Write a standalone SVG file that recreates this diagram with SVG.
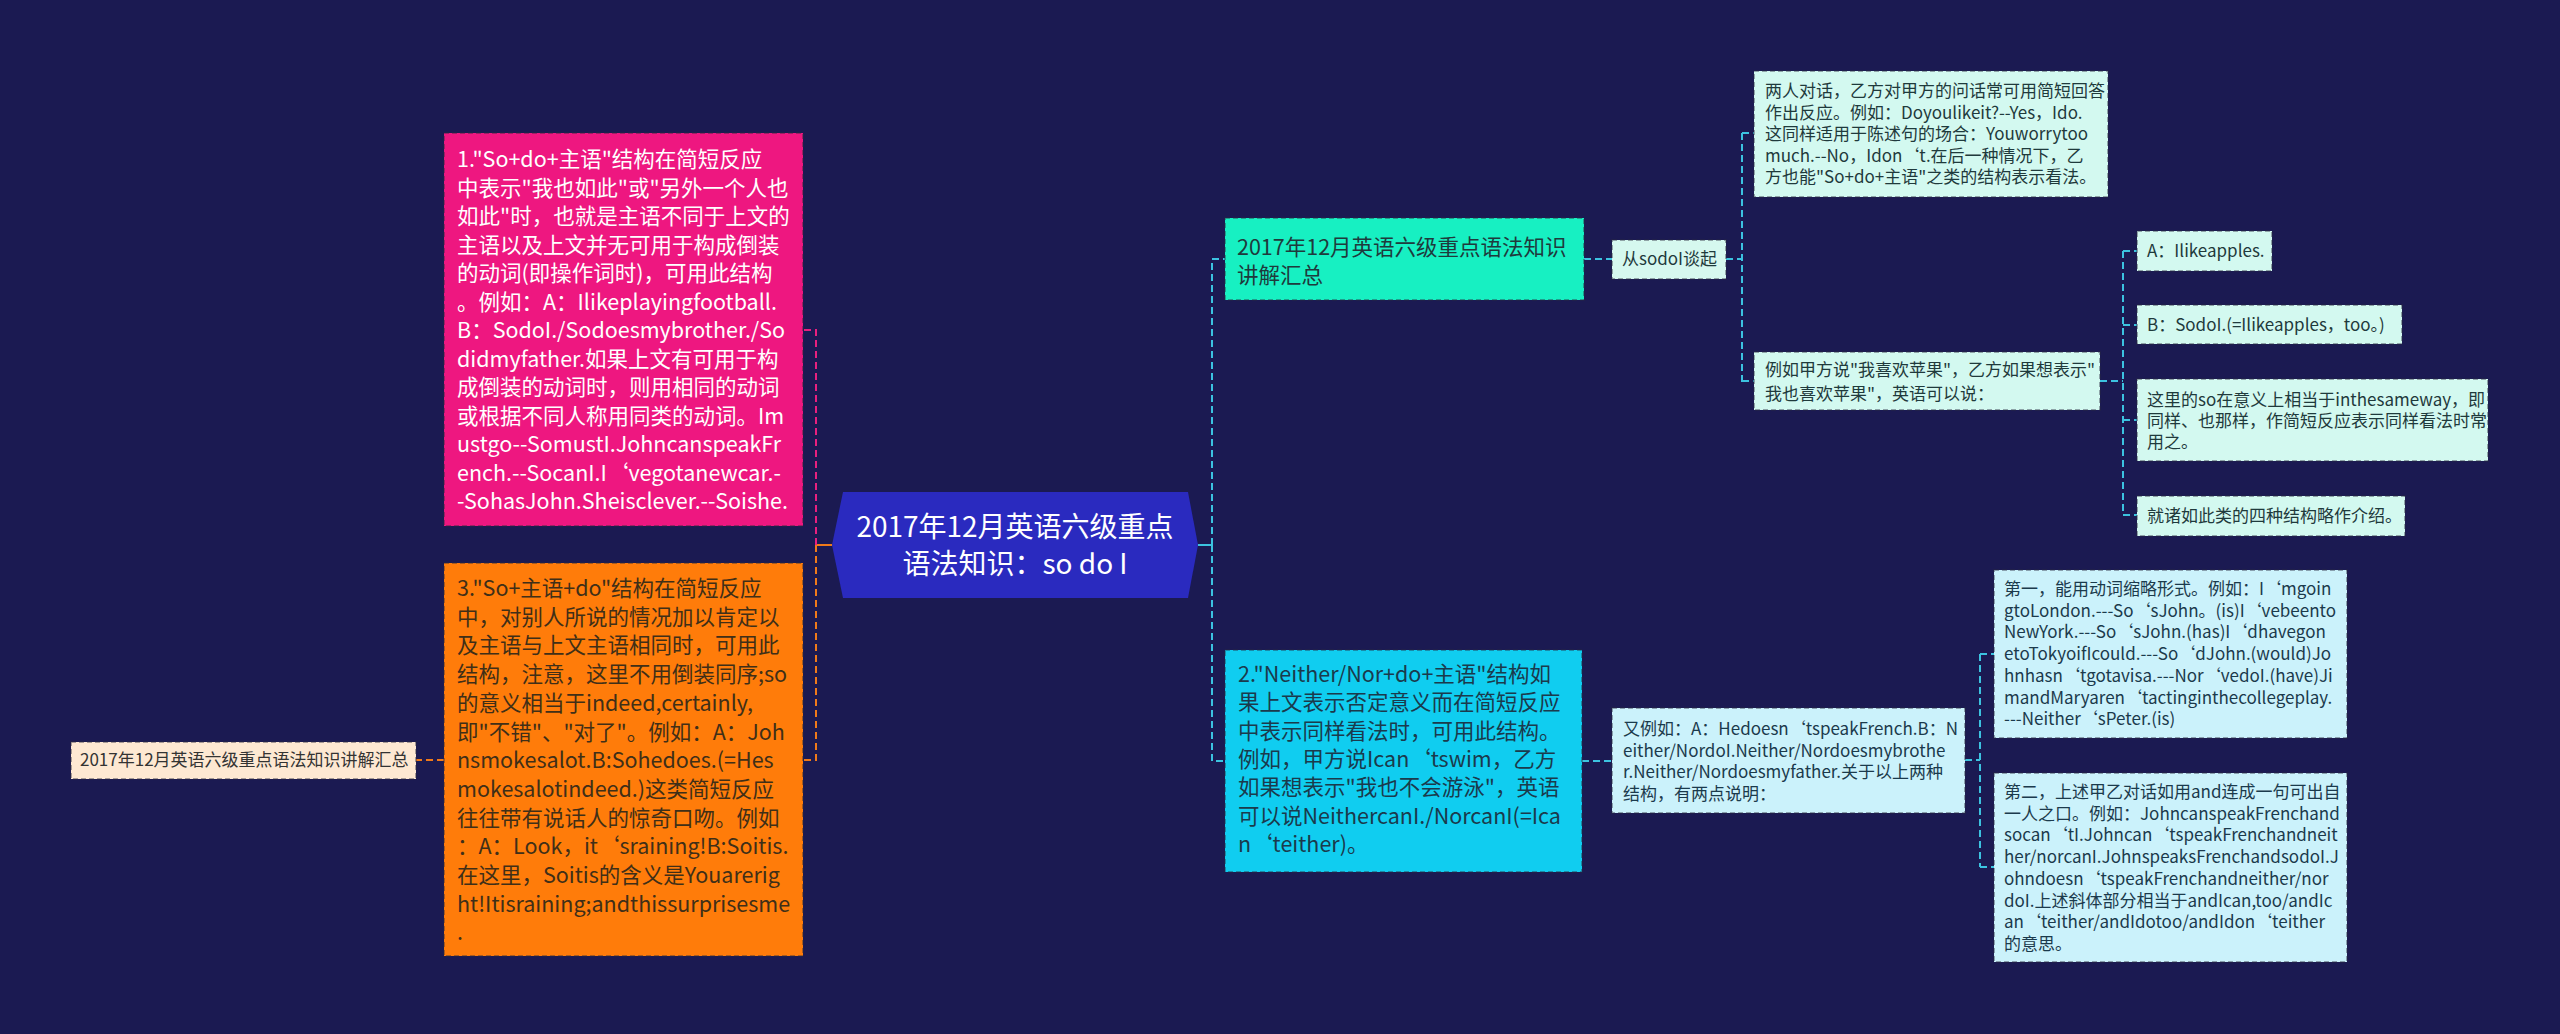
<svg xmlns="http://www.w3.org/2000/svg" width="2560" height="1034" viewBox="0 0 2560 1034">
<style>
text{font-family:"Noto Sans CJK SC","Noto Sans",sans-serif}
.big{font-size:21.5px}
.sm{font-size:17px}
.cn{fill:none;stroke-width:2;stroke-dasharray:7 4}
.nb{stroke:#2a2a40;stroke-opacity:.55;stroke-width:1.5;stroke-dasharray:5 3}
.dk{fill:#1f3a3c}
</style>
<rect width="2560" height="1034" fill="#1b1a52"/>
<g id="connectors">
<path d="M832 545H816" stroke="#f07a1a" stroke-width="2" fill="none"/>
<path class="cn" d="M816 545V330H803" stroke="#e8207f"/>
<path class="cn" d="M816 545V760H803" stroke="#f07a1a"/>
<path class="cn" d="M444 760H416" stroke="#f07a1a"/>
<path d="M1198 545H1212" stroke="#3cc3e0" stroke-width="2" fill="none"/>
<path class="cn" d="M1212 545V259H1225" stroke="#3cc3e0"/>
<path class="cn" d="M1212 545V761H1225" stroke="#3cc3e0"/>
<path class="cn" d="M1584 259H1612" stroke="#3cc3e0"/>
<path class="cn" d="M1726 259H1742M1742 133V383M1742 133H1754M1742 381H1754" stroke="#3cc3e0"/>
<path class="cn" d="M2100 381H2123M2123 251V515M2123 251H2137M2123 325H2137M2123 420H2137M2123 515H2137" stroke="#3cc3e0"/>
<path class="cn" d="M1582 761H1612" stroke="#3cc3e0"/>
<path class="cn" d="M1965 760H1980M1980 654V867M1980 654H1994M1980 867H1994" stroke="#3cc3e0"/>
</g>
<g id="center">
<polygon points="832,545 843,492 1188,492 1198,545 1188,598 843,598" fill="#2a2abf"/>
<text x="1015" y="537" font-size="28" fill="#fff" text-anchor="middle">2017年12月英语六级重点</text>
<text x="1015" y="574" font-size="28" fill="#fff" text-anchor="middle">语法知识：so do I</text>
</g>
<g id="n1">
<rect x="444" y="133" width="359" height="393" fill="#ee1780" class="nb"/>
<text class="big" fill="#fff">
<tspan x="457" y="167">1."So+do+主语"结构在简短反应</tspan>
<tspan x="457" y="195.5">中表示"我也如此"或"另外一个人也</tspan>
<tspan x="457" y="224">如此"时，也就是主语不同于上文的</tspan>
<tspan x="457" y="252.5">主语以及上文并无可用于构成倒装</tspan>
<tspan x="457" y="281">的动词(即操作词时)，可用此结构</tspan>
<tspan x="457" y="309.5">。例如：A：Ilikeplayingfootball.</tspan>
<tspan x="457" y="338">B：SodoI./Sodoesmybrother./So</tspan>
<tspan x="457" y="366.5">didmyfather.如果上文有可用于构</tspan>
<tspan x="457" y="395">成倒装的动词时，则用相同的动词</tspan>
<tspan x="457" y="423.5">或根据不同人称用同类的动词。Im</tspan>
<tspan x="457" y="452">ustgo--SomustI.JohncanspeakFr</tspan>
<tspan x="457" y="480.5">ench.--SocanI.I‘vegotanewcar.-</tspan>
<tspan x="457" y="509">-SohasJohn.Sheisclever.--Soishe.</tspan>
</text>
</g>
<g id="n3">
<rect x="444" y="563" width="359" height="393" fill="#ff7c0a" class="nb"/>
<text class="big" fill="#3f2f18">
<tspan x="457" y="596">3."So+主语+do"结构在简短反应</tspan>
<tspan x="457" y="624.7">中，对别人所说的情况加以肯定以</tspan>
<tspan x="457" y="653.4">及主语与上文主语相同时，可用此</tspan>
<tspan x="457" y="682.1">结构，注意，这里不用倒装同序;so</tspan>
<tspan x="457" y="710.8">的意义相当于indeed,certainly,</tspan>
<tspan x="457" y="739.5">即"不错"、"对了"。例如：A：Joh</tspan>
<tspan x="457" y="768.2">nsmokesalot.B:Sohedoes.(=Hes</tspan>
<tspan x="457" y="796.9">mokesalotindeed.)这类简短反应</tspan>
<tspan x="457" y="825.6">往往带有说话人的惊奇口吻。例如</tspan>
<tspan x="457" y="854.3">：A：Look，it‘sraining!B:Soitis.</tspan>
<tspan x="457" y="883">在这里，Soitis的含义是Youarerig</tspan>
<tspan x="457" y="911.7">ht!Itisraining;andthissurprisesme</tspan>
<tspan x="457" y="940.4">.</tspan>
</text>
</g>
<g id="nleft">
<rect x="71" y="742" width="345" height="37" fill="#fde8d2" class="nb"/>
<text x="80" y="766" class="sm" fill="#333">2017年12月英语六级重点语法知识讲解汇总</text>
</g>
<g id="nteal">
<rect x="1225" y="218" width="359" height="82" fill="#17f0c2" class="nb"/>
<text class="big dk"><tspan x="1237" y="255">2017年12月英语六级重点语法知识</tspan><tspan x="1237" y="283">讲解汇总</tspan></text>
</g>
<g id="nsodo">
<rect x="1612" y="240" width="114" height="39" fill="#d6f8ef" class="nb"/>
<text x="1622" y="265" class="sm dk">从sodoI谈起</text>
</g>
<g id="ntwo">
<rect x="1754" y="71" width="354" height="126" fill="#d3f9f0" class="nb"/>
<text class="sm dk">
<tspan x="1765" y="97">两人对话，乙方对甲方的问话常可用简短回答</tspan>
<tspan x="1765" y="118.5">作出反应。例如：Doyoulikeit?--Yes，Ido.</tspan>
<tspan x="1765" y="140">这同样适用于陈述句的场合：Youworrytoo</tspan>
<tspan x="1765" y="161.5">much.--No，Idon‘t.在后一种情况下，乙</tspan>
<tspan x="1765" y="183">方也能"So+do+主语"之类的结构表示看法。</tspan>
</text>
</g>
<g id="nex">
<rect x="1754" y="352" width="346" height="58" fill="#d3f9f0" class="nb"/>
<text class="sm dk"><tspan x="1765" y="376">例如甲方说"我喜欢苹果"，乙方如果想表示"</tspan><tspan x="1765" y="400">我也喜欢苹果"，英语可以说：</tspan></text>
</g>
<g id="na">
<rect x="2137" y="231" width="135" height="40" fill="#d3f9f0" class="nb"/>
<text x="2147" y="257" class="sm dk">A：Ilikeapples.</text>
</g>
<g id="nb">
<rect x="2137" y="305" width="265" height="39" fill="#d3f9f0" class="nb"/>
<text x="2147" y="331" class="sm dk">B：SodoI.(=Ilikeapples，too。)</text>
</g>
<g id="nso">
<rect x="2137" y="379" width="351" height="82" fill="#d3f9f0" class="nb"/>
<text class="sm dk"><tspan x="2147" y="406">这里的so在意义上相当于inthesameway，即</tspan><tspan x="2147" y="427">同样、也那样，作简短反应表示同样看法时常</tspan><tspan x="2147" y="448">用之。</tspan></text>
</g>
<g id="nfour">
<rect x="2137" y="496" width="268" height="40" fill="#d3f9f0" class="nb"/>
<text x="2147" y="522" class="sm dk">就诸如此类的四种结构略作介绍。</text>
</g>
<g id="n2">
<rect x="1225" y="650" width="357" height="222" fill="#10cdf0" class="nb"/>
<text class="big" fill="#1b3a4c">
<tspan x="1238" y="682">2."Neither/Nor+do+主语"结构如</tspan>
<tspan x="1238" y="710.3">果上文表示否定意义而在简短反应</tspan>
<tspan x="1238" y="738.6">中表示同样看法时，可用此结构。</tspan>
<tspan x="1238" y="766.9">例如，甲方说Ican‘tswim，乙方</tspan>
<tspan x="1238" y="795.2">如果想表示"我也不会游泳"，英语</tspan>
<tspan x="1238" y="823.5">可以说NeithercanI./NorcanI(=Ica</tspan>
<tspan x="1238" y="851.8">n‘teither)。</tspan>
</text>
</g>
<g id="nyou">
<rect x="1612" y="708" width="353" height="105" fill="#cbf2fb" class="nb"/>
<text class="sm" fill="#1b3a4c">
<tspan x="1623" y="735">又例如：A：Hedoesn‘tspeakFrench.B：N</tspan>
<tspan x="1623" y="756.5">either/NordoI.Neither/Nordoesmybrothe</tspan>
<tspan x="1623" y="778">r.Neither/Nordoesmyfather.关于以上两种</tspan>
<tspan x="1623" y="799.5">结构，有两点说明：</tspan>
</text>
</g>
<g id="nfirst">
<rect x="1994" y="570" width="353" height="168" fill="#cbf2fb" class="nb"/>
<text class="sm" fill="#1b3a4c">
<tspan x="2004" y="595">第一，能用动词缩略形式。例如：I‘mgoin</tspan>
<tspan x="2004" y="616.7">gtoLondon.---So‘sJohn。(is)I‘vebeento</tspan>
<tspan x="2004" y="638.4">NewYork.---So‘sJohn.(has)I‘dhavegon</tspan>
<tspan x="2004" y="660.1">etoTokyoifIcould.---So‘dJohn.(would)Jo</tspan>
<tspan x="2004" y="681.8">hnhasn‘tgotavisa.---Nor‘vedoI.(have)Ji</tspan>
<tspan x="2004" y="703.5">mandMaryaren‘tactinginthecollegeplay.</tspan>
<tspan x="2004" y="725.2">---Neither‘sPeter.(is)</tspan>
</text>
</g>
<g id="nsecond">
<rect x="1994" y="773" width="353" height="189" fill="#cbf2fb" class="nb"/>
<text class="sm" fill="#1b3a4c">
<tspan x="2004" y="798">第二，上述甲乙对话如用and连成一句可出自</tspan>
<tspan x="2004" y="819.7">一人之口。例如：JohncanspeakFrenchand</tspan>
<tspan x="2004" y="841.4">socan‘tI.Johncan‘tspeakFrenchandneit</tspan>
<tspan x="2004" y="863.1">her/norcanI.JohnspeaksFrenchandsodoI.J</tspan>
<tspan x="2004" y="884.8">ohndoesn‘tspeakFrenchandneither/nor</tspan>
<tspan x="2004" y="906.5">doI.上述斜体部分相当于andIcan,too/andIc</tspan>
<tspan x="2004" y="928.2">an‘teither/andIdotoo/andIdon‘teither</tspan>
<tspan x="2004" y="949.9">的意思。</tspan>
</text>
</g>
</svg>
